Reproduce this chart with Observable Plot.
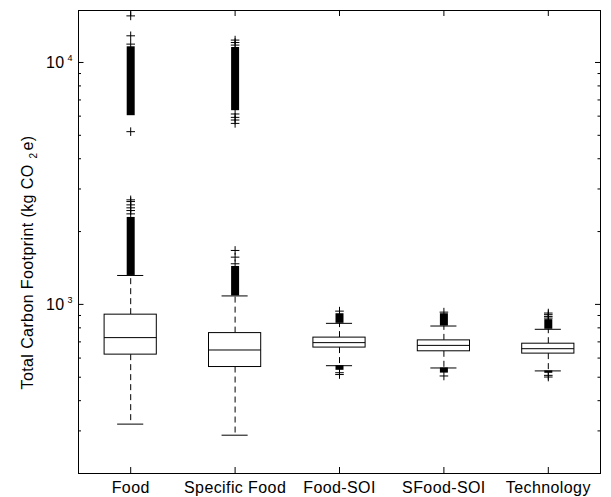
<!DOCTYPE html>
<html><head><meta charset="utf-8">
<script src="https://cdn.jsdelivr.net/npm/d3@7"></script>
<script src="https://cdn.jsdelivr.net/npm/@observablehq/plot@0.6"></script>
<style>body{margin:0;background:#fff}</style>
</head><body><div id="chart"></div>
<script>
const categories = ["Food", "Specific Food", "Food-SOI", "SFood-SOI", "Technology"];
const q1 = [620, 551, 663, 640, 626];
const medians = [729, 648, 695, 677, 656];
const q3 = [907, 761, 729, 710, 688];
const lowerWhisker = [320, 288, 558, 546, 531];
const upperWhisker = [1317, 1084, 835, 814, 789];

// dense runs of overlapping outlier markers (category index, low, high)
const bandCategory = [0, 0, 1, 1, 2, 2, 3, 3, 4, 4];
const bandLow = [1317, 6026, 1084, 6320, 835, 534, 814, 520, 789, 519];
const bandHigh = [2288, 11610, 1435, 11530, 915, 558, 915, 546, 865, 531];

// individually visible outliers
const outlierCategory = [0,0,0,0,0,0,0,0,0,0, 1,1,1,1,1,1,1,1,1,1, 2,2,2, 3,3, 4,4,4,4,4,4];
const outlierValue = [2705,2661,2579,2507,2443,2367,12890,11910,15580,5176,
  1671,1568,1472,12375,12090,11800,6124,5931,5783,5600,
  938,522,513,
  929,506,
  921,907,892,878,509,501];

const yMajorTicks = [1000, 10000];
const yTickExponents = ["3", "4"];
const yMinorTicks = [300,400,500,600,700,800,900,2000,3000,4000,5000,6000,7000,8000,9000];
const yLabel = "Total Carbon Footprint (kg CO2e)";

const HALF_BOX = 0.25, HALF_CAP = 0.125;
const positions = categories.map((_, i) => i + 1);
const boxes = categories.map((c, i) => ({x: i + 1, q1: q1[i], med: medians[i], q3: q3[i], lo: lowerWhisker[i], hi: upperWhisker[i]}));
const bands = bandCategory.map((c, i) => ({x: c + 1, lo: bandLow[i], hi: bandHigh[i]}));
const outliers = outlierCategory.map((c, i) => ({x: c + 1, y: outlierValue[i]}));

const plusSymbol = {draw(ctx, size) {
  const r = Math.sqrt(size / Math.PI);
  ctx.moveTo(-r, 0); ctx.lineTo(r, 0); ctx.moveTo(0, -r); ctx.lineTo(0, r);
}};

const chart = Plot.plot({
  width: 611, height: 497,
  marginLeft: 78, marginRight: 11, marginTop: 10, marginBottom: 24,
  style: {fontFamily: "'Liberation Sans', Arial, sans-serif", fontSize: "16px", background: "#fff", color: "#000", letterSpacing: "0.4px"},
  x: {type: "linear", domain: [0.5, 5.5], axis: null},
  y: {type: "log", domain: [200, 16400], axis: null},
  marks: [
    Plot.ruleX(boxes, {x: "x", y1: "q3", y2: "hi", stroke: "black", strokeDasharray: "6,4"}),
    Plot.ruleX(boxes, {x: "x", y1: "q1", y2: "lo", stroke: "black", strokeDasharray: "6,4"}),
    Plot.ruleY(boxes, {y: "hi", x1: d => d.x - HALF_CAP, x2: d => d.x + HALF_CAP, stroke: "black"}),
    Plot.ruleY(boxes, {y: "lo", x1: d => d.x - HALF_CAP, x2: d => d.x + HALF_CAP, stroke: "black"}),
    Plot.rect(boxes, {x1: d => d.x - HALF_BOX, x2: d => d.x + HALF_BOX, y1: "q1", y2: "q3", fill: "white", stroke: "black"}),
    Plot.ruleY(boxes, {y: "med", x1: d => d.x - HALF_BOX, x2: d => d.x + HALF_BOX, stroke: "black"}),
    Plot.ruleX(bands, {x: "x", y1: "lo", y2: "hi", stroke: "black", strokeWidth: 8}),
    Plot.dot(outliers, {x: "x", y: "y", symbol: plusSymbol, r: 4.3, stroke: "black", fill: "none", strokeWidth: 1}),
    Plot.frame({stroke: "black"}),
    Plot.axisX(positions, {anchor: "bottom", tickSize: 0, tickPadding: 8, tickFormat: d => categories[d - 1], fontSize: 16, label: null}),
    Plot.axisX(positions, {anchor: "bottom", tickSize: -6, tickFormat: () => "", label: null}),
    Plot.axisX(positions, {anchor: "top", tickSize: -5, tickFormat: () => "", label: null}),
    Plot.axisY(yMinorTicks, {anchor: "left", tickSize: -3, tickFormat: () => "", label: null}),
    Plot.axisY(yMajorTicks, {anchor: "left", tickSize: -5.5, tickFormat: () => "", label: null}),
    Plot.axisY(yMinorTicks, {anchor: "right", tickSize: -3.5, tickFormat: () => "", label: null}),
    Plot.axisY(yMajorTicks, {anchor: "right", tickSize: -6, tickFormat: () => "", label: null}),
    Plot.text(yMajorTicks, {y: d => d, frameAnchor: "left", text: () => "10", textAnchor: "end", dx: -14, fontSize: 16}),
    Plot.text(yMajorTicks, {y: d => d, frameAnchor: "left", text: (d, i) => yTickExponents[i], textAnchor: "start", dx: -11, dy: -4.5, fontSize: 9}),
    Plot.text([yLabel], {frameAnchor: "left", text: d => d, rotate: -90, textAnchor: "middle", dx: -50.5, dy: 20.5, fontSize: 16})
  ]
});
document.getElementById("chart").appendChild(chart);

// subscript the "2" of CO2e (TeX-like spacing)
d3.select(chart).selectAll("text").filter(function() { return this.textContent === yLabel; })
  .each(function() {
    const t = d3.select(this);
    t.text("");
    t.append("tspan").text("Total Carbon Footprint (kg CO");
    t.append("tspan").attr("dy", 4).attr("dx", 6).attr("font-size", 10).text("2");
    t.append("tspan").attr("dy", -4).attr("dx", 2).text("e)");
  });
</script>
</body></html>
